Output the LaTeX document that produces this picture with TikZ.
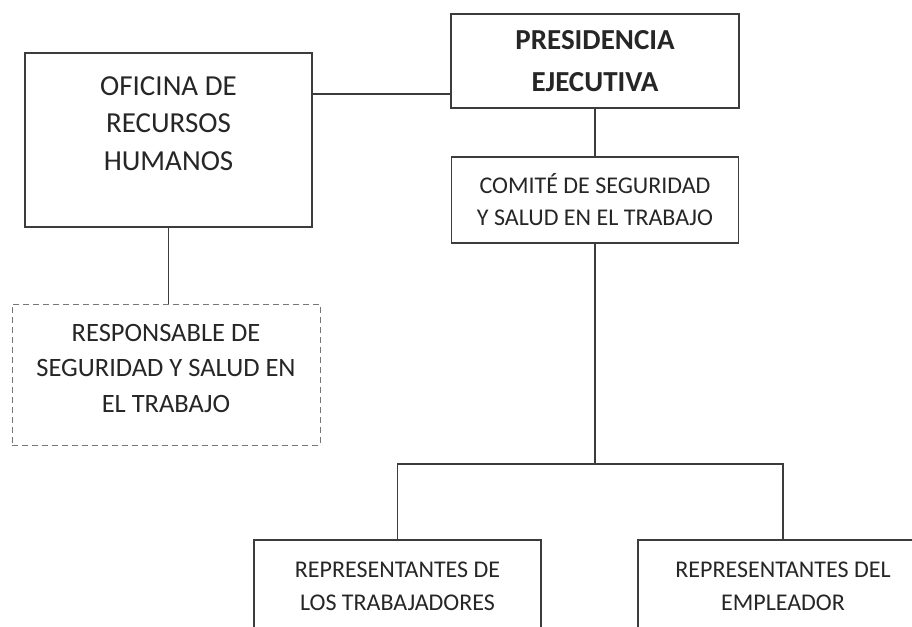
\documentclass[tikz,border=0pt]{standalone}
\usepackage{fontspec}
\setmainfont{Carlito}
\usetikzlibrary{positioning}
\definecolor{inkgray}{RGB}{60,60,60}
\tikzset{
orgbox/.style={
  rectangle,
  line width=1.2pt,
  inner sep=0pt,
  align=center,
  draw=inkgray,
  text=black!85,
  minimum width=287pt,
  }
}
\tikzset{
dashbox/.style={
  orgbox,
  draw=inkgray!70,
  line width=1pt,
  dash pattern=on 6pt off 4pt,
  }
}
\tikzset{
orgline/.style={
  line width=1.3pt,
  draw=inkgray,
  }
}

\begin{document}
\begin{tikzpicture}[x=1pt,y=-1pt]
    \clip (0,0) rectangle (912,626);
    \fill[white] (0,0) rectangle (912,626);

    % top level
    \node[orgbox, minimum width=288pt, minimum height=94pt, font=\fontsize{29}{42}\selectfont\bfseries] (pres) at (595,61) {PRESIDENCIA\\EJECUTIVA};
    \node[orgbox, minimum height=174pt, font=\fontsize{29}{37.5}\selectfont] (ofi) at (168.5,140) {OFICINA DE\\RECURSOS\\HUMANOS\\[-4.5pt]\mbox{}};
    \coordinate (hlink) at (380,94);

    % committee part
    \node[orgbox, minimum height=86pt, font=\fontsize{24}{32}\selectfont] (com) at (595,200) {COMITÉ DE SEGURIDAD\\Y SALUD EN EL TRABAJO};
    \node[dashbox, minimum width=308pt, minimum height=141pt, font=\fontsize{26.5}{35.5}\selectfont] (resp) at (166,374.5) {RESPONSABLE DE\\SEGURIDAD Y SALUD EN\\EL TRABAJO\\[-22.5pt]\mbox{}};

    % representatives part
    \coordinate (split) at (595,464);
    \node[orgbox, minimum height=92pt, font=\fontsize{24}{33}\selectfont] (trab) at (397.5,586) {REPRESENTANTES DE\\LOS TRABAJADORES};
    \node[orgbox, minimum width=290pt, minimum height=92pt, font=\fontsize{24}{33}\selectfont] (empl) at (783,586) {REPRESENTANTES DEL\\EMPLEADOR};

    % edges
    \draw[orgline] (ofi.east |- hlink) -- (pres.west |- hlink);
    \draw[orgline] (pres.south) -- (com.north);
    \draw[orgline] (ofi.south) -- (ofi.south |- resp.north);
    \draw[orgline] (com.south) -- (split);
    \draw[orgline] (trab.north) |- (split) -| (empl.north);
  \end{tikzpicture}
\end{document}
